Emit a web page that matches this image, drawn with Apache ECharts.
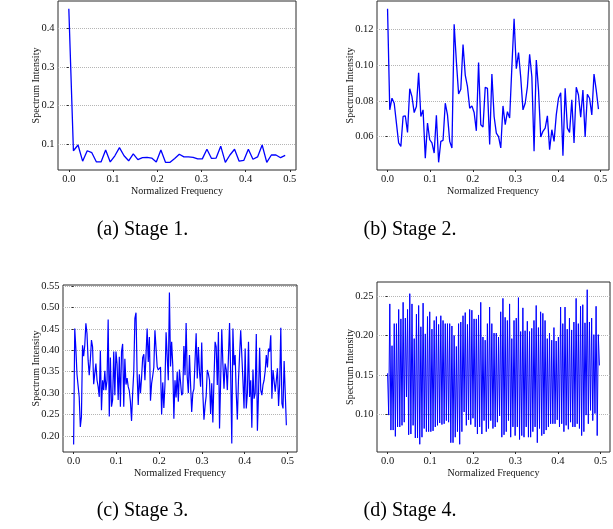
<!DOCTYPE html>
<html><head><meta charset="utf-8">
<script src="https://cdn.jsdelivr.net/npm/echarts@6/dist/echarts.min.js"></script>
<style>html,body{margin:0;padding:0;background:#fff}#c{width:613px;height:529px}</style>
</head><body><div id="c"></div>
<script>
// ---------- data ----------
const stage1 = [
  0.452, 0.083, 0.098, 0.056, 0.083, 0.078, 0.054, 0.054, 0.085, 0.054,
  0.070, 0.091, 0.070, 0.057, 0.075, 0.060, 0.065, 0.066, 0.064, 0.054,
  0.085, 0.053, 0.053, 0.063, 0.074, 0.067, 0.067, 0.066, 0.062, 0.062,
  0.087, 0.063, 0.064, 0.095, 0.053, 0.072, 0.087, 0.056, 0.058, 0.087,
  0.061, 0.067, 0.098, 0.053, 0.072, 0.072, 0.065, 0.071
];
const stage2 = [
  0.1315, 0.0750, 0.0815, 0.0787, 0.0676, 0.0565, 0.0546, 0.0713, 0.0717, 0.0624,
  0.0868, 0.0824, 0.0735, 0.0769, 0.0957, 0.0713, 0.0750, 0.0480, 0.0676, 0.0583,
  0.0565, 0.0509, 0.0720, 0.0457, 0.0574, 0.0580, 0.0787, 0.0722, 0.0574, 0.0537,
  0.1228, 0.1020, 0.0839, 0.0865, 0.1115, 0.0944, 0.0880, 0.0759, 0.0772, 0.0735,
  0.0633, 0.1015, 0.0667, 0.0654, 0.0876, 0.0870, 0.0556, 0.0950, 0.0713, 0.0620,
  0.0600, 0.0537, 0.0772, 0.0667, 0.0740, 0.0704, 0.0990, 0.1259, 0.0980, 0.1070,
  0.0930, 0.0750, 0.0787, 0.0880, 0.1060, 0.0935, 0.0519, 0.1028, 0.0860, 0.0598,
  0.0630, 0.0648, 0.0717, 0.0528, 0.0639, 0.0574, 0.0722, 0.0815, 0.0846, 0.0494,
  0.0870, 0.0648, 0.0624, 0.0806, 0.0565, 0.0876, 0.0833, 0.0709, 0.0860, 0.0598,
  0.0837, 0.0815, 0.0722, 0.0950, 0.0860, 0.0754
];
const stage3 = [
  0.180, 0.451, 0.404, 0.344, 0.342, 0.291, 0.221, 0.245, 0.412, 0.386,
  0.412, 0.463, 0.439, 0.377, 0.342, 0.377, 0.424, 0.408, 0.321, 0.346,
  0.369, 0.330, 0.315, 0.291, 0.399, 0.260, 0.330, 0.307, 0.352, 0.307,
  0.330, 0.472, 0.245, 0.383, 0.268, 0.284, 0.397, 0.295, 0.397, 0.368,
  0.284, 0.385, 0.268, 0.397, 0.415, 0.268, 0.380, 0.320, 0.335, 0.315,
  0.305, 0.280, 0.235, 0.300, 0.350, 0.475, 0.488, 0.344, 0.272, 0.344,
  0.300, 0.336, 0.383, 0.391, 0.330, 0.330, 0.451, 0.373, 0.431, 0.282,
  0.322, 0.340, 0.360, 0.447, 0.447, 0.362, 0.354, 0.355, 0.361, 0.250,
  0.325, 0.265, 0.320, 0.442, 0.440, 0.330, 0.535, 0.362, 0.420, 0.365,
  0.240, 0.330, 0.290, 0.350, 0.280, 0.355, 0.355, 0.295, 0.300, 0.410,
  0.342, 0.464, 0.338, 0.300, 0.389, 0.320, 0.256, 0.300, 0.310, 0.312,
  0.440, 0.334, 0.408, 0.350, 0.315, 0.418, 0.300, 0.238, 0.270, 0.293,
  0.354, 0.345, 0.330, 0.251, 0.323, 0.231, 0.330, 0.420, 0.408, 0.319,
  0.443, 0.217, 0.330, 0.449, 0.369, 0.310, 0.369, 0.355, 0.307, 0.310,
  0.464, 0.346, 0.182, 0.451, 0.365, 0.389, 0.300, 0.238, 0.330, 0.389,
  0.447, 0.447, 0.330, 0.264, 0.404, 0.264, 0.300, 0.420, 0.291, 0.330,
  0.219, 0.355, 0.287, 0.300, 0.438, 0.212, 0.299, 0.406, 0.307, 0.295,
  0.319, 0.330, 0.352, 0.389, 0.360, 0.404, 0.397, 0.435, 0.287, 0.354,
  0.354, 0.303, 0.330, 0.358, 0.270, 0.320, 0.453, 0.276, 0.264, 0.375,
  0.375, 0.225
];
const stage4 = [
  0.152, 0.099, 0.240, 0.080, 0.187, 0.080, 0.215, 0.072, 0.215, 0.084,
  0.233, 0.084, 0.221, 0.086, 0.242, 0.090, 0.222, 0.122, 0.233, 0.074,
  0.253, 0.075, 0.240, 0.086, 0.196, 0.070, 0.227, 0.070, 0.238, 0.062,
  0.211, 0.071, 0.241, 0.082, 0.202, 0.078, 0.224, 0.078, 0.230, 0.078,
  0.208, 0.079, 0.219, 0.084, 0.224, 0.086, 0.214, 0.089, 0.225, 0.087,
  0.219, 0.088, 0.215, 0.092, 0.215, 0.090, 0.215, 0.064, 0.212, 0.064,
  0.200, 0.071, 0.186, 0.078, 0.215, 0.062, 0.217, 0.078, 0.225, 0.103,
  0.229, 0.086, 0.214, 0.093, 0.233, 0.087, 0.232, 0.095, 0.221, 0.084,
  0.221, 0.075, 0.226, 0.084, 0.242, 0.075, 0.198, 0.092, 0.194, 0.078,
  0.215, 0.082, 0.236, 0.092, 0.215, 0.082, 0.203, 0.084, 0.203, 0.090,
  0.198, 0.098, 0.230, 0.071, 0.247, 0.074, 0.223, 0.078, 0.219, 0.092,
  0.240, 0.071, 0.196, 0.084, 0.219, 0.073, 0.222, 0.084, 0.248, 0.068,
  0.205, 0.073, 0.235, 0.071, 0.206, 0.084, 0.218, 0.071, 0.205, 0.071,
  0.209, 0.078, 0.219, 0.084, 0.238, 0.064, 0.210, 0.082, 0.230, 0.073,
  0.228, 0.075, 0.219, 0.080, 0.196, 0.084, 0.203, 0.088, 0.194, 0.088,
  0.210, 0.088, 0.193, 0.093, 0.198, 0.084, 0.236, 0.088, 0.215, 0.078,
  0.236, 0.086, 0.208, 0.081, 0.222, 0.090, 0.207, 0.084, 0.217, 0.084,
  0.247, 0.088, 0.215, 0.082, 0.237, 0.073, 0.239, 0.078, 0.216, 0.099,
  0.258, 0.088, 0.217, 0.105, 0.222, 0.092, 0.201, 0.101, 0.237, 0.073,
  0.201, 0.162
];
// FFT length of each stage: bin k sits at normalized frequency k / n
const fftSize = [96, 192, 384, 384];

const xTicks = [0.0, 0.1, 0.2, 0.3, 0.4, 0.5];
const yTicks1 = [0.1, 0.2, 0.3, 0.4];
const yTicks2 = [0.06, 0.08, 0.10, 0.12];
const yTicks3 = [0.20, 0.25, 0.30, 0.35, 0.40, 0.45, 0.50, 0.55];
const yTicks4 = [0.10, 0.15, 0.20, 0.25];
const yDecimals = [1, 2, 2, 2];
const captions = ['(a) Stage 1.', '(b) Stage 2.', '(c) Stage 3.', '(d) Stage 4.'];
const xTitle = 'Normalized Frequency';
const yTitle = 'Spectrum Intensity';

// ---------- layout ----------
const FONT = '"Liberation Serif", "Times New Roman", serif';
const grids = [
  {left: 58, top: 1, width: 238, height: 169},
  {left: 377, top: 1, width: 232, height: 169},
  {left: 63, top: 285, width: 234, height: 167},
  {left: 377, top: 282, width: 233, height: 170}
];
const yNameGaps = [17, 22, 21.5, 22];
const lineWidths = [1.3, 1.3, 1.2, 1.0];
const captionPos = [[142.5, 230], [410, 230], [142.5, 511], [410, 511]];

const stages = [stage1, stage2, stage3, stage4];
const yTickSets = [yTicks1, yTicks2, yTicks3, yTicks4];

function padded(lo, hi) { const m = (hi - lo) * 0.05; return [lo - m, hi + m]; }

const option = {
  animation: false,
  backgroundColor: '#fff',
  grid: grids.map(g => Object.assign({show: true, borderColor: '#2a2a2a', borderWidth: 1, backgroundColor: 'transparent'}, g)),
  xAxis: stages.map((s, i) => {
    const last = (s.length - 1) / fftSize[i];
    const [mn, mx] = padded(0, last);
    return {
      type: 'value', gridIndex: i, min: mn, max: mx,
      name: xTitle, nameLocation: 'middle', nameGap: 13,
      nameTextStyle: {fontFamily: FONT, fontSize: 10, color: '#111'},
      axisLine: {show: false},
      axisTick: {show: true, length: 2, customValues: xTicks, lineStyle: {color: '#2a2a2a'}},
      axisLabel: {customValues: xTicks, formatter: v => v.toFixed(1), margin: 4,
                  fontFamily: FONT, fontSize: 10.5, color: '#111'},
      splitLine: {show: false}
    };
  }),
  yAxis: stages.map((s, i) => {
    const [mn, mx] = padded(Math.min(...s), Math.max(...s));
    return {
      type: 'value', gridIndex: i, min: mn, max: mx,
      name: yTitle, nameLocation: 'middle', nameGap: yNameGaps[i], nameRotate: 90,
      nameMoveOverlap: false,
      nameTextStyle: {fontFamily: FONT, fontSize: 10, color: '#111'},
      axisLine: {show: false},
      axisTick: {show: true, length: 2, customValues: yTickSets[i], lineStyle: {color: '#2a2a2a'}},
      axisLabel: {customValues: yTickSets[i], formatter: v => v.toFixed(yDecimals[i]), margin: 3.5,
                  fontFamily: FONT, fontSize: 10.5, color: '#111'},
      splitLine: {show: true, lineStyle: {type: 'dotted', color: '#b5b5b5', width: 1}}
    };
  }),
  series: stages.map((s, i) => ({
    type: 'line', xAxisIndex: i, yAxisIndex: i,
    data: s.map((v, k) => [k / fftSize[i], v]),
    showSymbol: false, symbol: 'none',
    lineStyle: {color: '#0000ff', width: lineWidths[i]},
    z: 3
  })),
  graphic: captions.map((t, i) => ({
    type: 'text', x: captionPos[i][0], y: captionPos[i][1],
    style: {text: t, fill: '#000', font: '20px ' + FONT, fontFamily: FONT, fontSize: 20,
            textAlign: 'center', textVerticalAlign: 'middle', align: 'center', verticalAlign: 'middle'}
  }))
};

const chart = echarts.init(document.getElementById('c'), null, {renderer: 'canvas'});
chart.setOption(option);
</script>
</body></html>
